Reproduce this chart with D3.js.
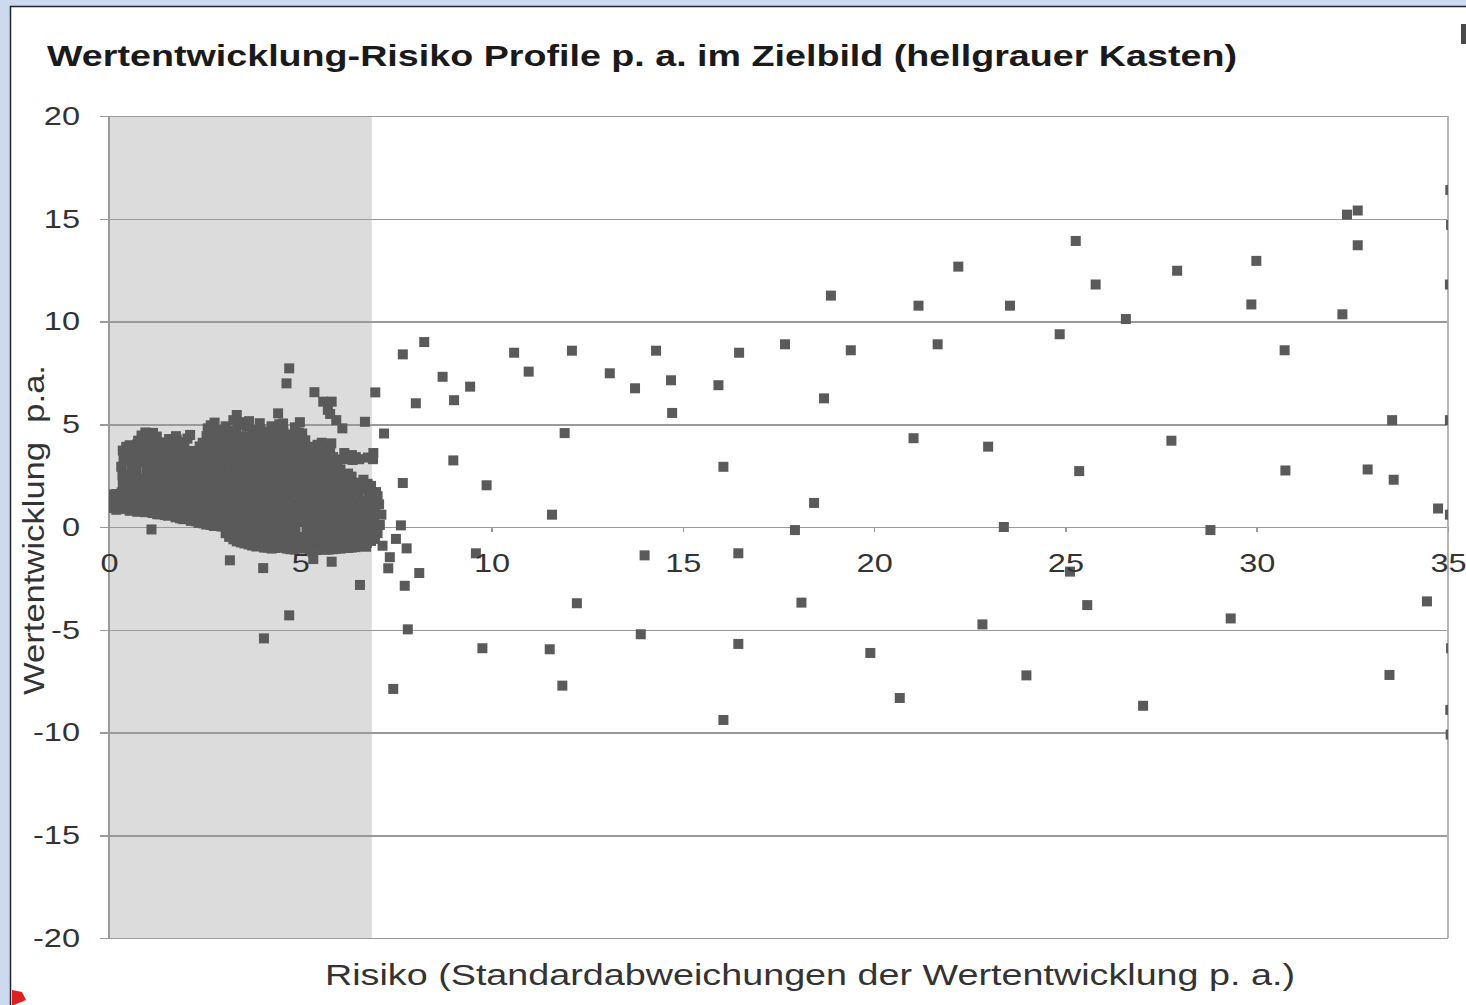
<!DOCTYPE html>
<meta charset="utf-8">
<style>
body { margin: 0; background: #ccd9ee; }
svg { display: block; font-family: "Liberation Sans", Arial, sans-serif; }
.grid line { stroke: #9a9a9a; stroke-width: 1.5; shape-rendering: crispEdges; }
.axis path { display: none; }
.axis text { fill: #333; font-size: 26px; }
.frame { stroke: #9a9a9a; stroke-width: 1.5; fill: none; shape-rendering: crispEdges; }
.pt { fill: #5a5a5a; }
</style>
<body>
<script src="https://cdn.jsdelivr.net/npm/d3@7"></script>
<script>

var xTicks = [0, 5, 10, 15, 20, 25, 30, 35],
    yTicks = [-20, -15, -10, -5, 0, 5, 10, 15, 20],
    targetBox = [0, 6.87];

// dense cloud of funds inside the target box (risk, return)
var clusterPoints = [
  [0.04,0.92],[0.07,1.31],[0.05,1.58],[0.19,0.84],[0.22,1.22],[0.18,1.6],
  [0.34,0.88],[0.37,1.27],[0.33,1.68],[0.36,2.1],[0.35,2.52],[0.32,2.93],[0.38,3.34],[0.36,3.72],
  [0.54,0.79],[0.57,1.18],[0.53,1.6],[0.56,2.02],[0.55,2.41],[0.58,2.83],[0.52,3.25],[0.56,3.63],[0.54,3.98],
  [0.74,0.74],[0.77,1.12],[0.73,1.55],[0.76,1.96],[0.78,2.37],[0.72,2.8],[0.75,3.2],[0.77,3.6],[0.74,4.02],[0.76,4.2],
  [0.94,0.72],[0.97,1.1],[0.93,1.52],[0.96,1.93],[0.95,2.33],[0.98,2.76],[0.92,3.16],[0.96,3.57],[0.94,3.97],[0.97,4.35],[0.95,4.6],
  [1.11,-0.12],[1.14,0.68],[1.17,1.08],[1.13,1.49],[1.16,1.9],[1.15,2.3],[1.18,2.72],[1.12,3.13],[1.16,3.54],[1.14,3.94],[1.17,4.32],[1.15,4.58],
  [1.34,0.62],[1.37,1.04],[1.33,1.45],[1.36,1.87],[1.35,2.27],[1.38,2.69],[1.32,3.1],[1.36,3.5],[1.34,3.9],[1.37,4.12],
  [1.54,0.55],[1.57,0.98],[1.53,1.4],[1.56,1.82],[1.55,2.22],[1.58,2.64],[1.52,3.05],[1.56,3.46],[1.54,3.86],[1.57,4.28],
  [1.64,0.7],[1.74,0.47],[1.77,0.9],[1.73,1.33],[1.76,1.76],[1.75,2.18],[1.78,2.6],[1.72,3.0],[1.76,3.42],[1.74,3.83],[1.77,4.25],[1.75,4.42],
  [1.94,0.38],[1.97,0.82],[1.93,1.24],[1.96,1.67],[1.95,2.1],[1.98,2.52],[1.92,2.94],[1.96,3.36],[1.94,3.78],[1.97,4.12],
  [2.14,0.3],[2.17,0.74],[2.13,1.17],[2.16,1.6],[2.15,2.02],[2.18,2.45],[2.12,2.88],[2.16,3.3],[2.14,3.7],[2.12,4.48],
  [2.34,0.2],[2.37,0.62],[2.33,1.06],[2.36,1.5],[2.35,1.93],[2.38,2.36],[2.32,2.8],[2.36,3.22],[2.34,3.62],[2.37,3.92],
  [2.54,0.12],[2.57,0.55],[2.53,0.98],[2.56,1.42],[2.55,1.86],[2.58,2.3],[2.52,2.72],[2.56,3.15],[2.54,3.58],[2.57,4.0],[2.55,4.42],[2.58,4.8],
  [2.74,0.05],[2.77,0.48],[2.73,0.92],[2.76,1.36],[2.75,1.8],[2.78,2.24],[2.72,2.66],[2.76,3.1],[2.74,3.52],[2.77,3.95],[2.75,4.38],[2.73,4.8],[2.76,5.08],
  [2.94,0.02],[2.97,0.44],[2.93,0.88],[2.96,1.32],[2.95,1.76],[2.98,2.2],[2.92,2.62],[2.96,3.05],[2.94,3.48],[2.97,3.9],[2.95,4.32],[2.98,4.72],
  [3.16,-1.62],[3.14,-0.48],[3.17,-0.05],[3.13,0.38],[3.16,0.82],[3.15,1.26],[3.18,1.7],[3.12,2.14],[3.16,2.56],[3.14,3.0],[3.17,3.42],[3.15,3.86],[3.18,4.28],[3.14,4.68],
  [3.34,-0.7],[3.37,-0.26],[3.33,0.18],[3.36,0.62],[3.35,1.06],[3.38,1.5],[3.32,1.94],[3.36,2.38],[3.34,2.8],[3.37,3.24],[3.35,3.66],[3.38,4.1],[3.32,4.52],[3.36,4.95],[3.34,5.45],
  [3.54,-0.8],[3.57,-0.36],[3.53,0.08],[3.56,0.52],[3.55,0.96],[3.58,1.4],[3.52,1.84],[3.56,2.28],[3.54,2.7],[3.57,3.14],[3.55,3.56],[3.58,4.0],[3.52,4.42],[3.6,4.9],
  [3.74,-0.9],[3.77,-0.46],[3.73,-0.02],[3.76,0.42],[3.75,0.86],[3.78,1.3],[3.72,1.74],[3.76,2.18],[3.74,2.6],[3.77,3.04],[3.75,3.46],[3.78,3.9],[3.72,4.32],[3.76,4.72],
  [4.03,-2.0],[3.94,-0.88],[3.97,-0.44],[3.93,0.0],[3.96,0.44],[3.95,0.88],[3.98,1.32],[3.92,1.76],[3.96,2.2],[3.94,2.62],[3.97,3.06],[3.95,3.48],[3.98,3.92],[3.92,4.34],[3.96,4.76],[3.94,5.05],
  [4.14,-1.0],[4.17,-0.56],[4.13,-0.12],[4.16,0.32],[4.15,0.76],[4.18,1.2],[4.12,1.64],[4.16,2.08],[4.14,2.5],[4.17,2.94],[4.15,3.36],[4.18,3.8],[4.12,4.22],[4.16,4.64],
  [4.34,-1.02],[4.37,-0.58],[4.33,-0.14],[4.36,0.3],[4.35,0.74],[4.38,1.18],[4.32,1.62],[4.36,2.06],[4.34,2.48],[4.37,2.92],[4.35,3.34],[4.38,3.78],[4.32,4.2],[4.36,4.62],[4.42,5.53],
  [4.54,-1.0],[4.57,-0.56],[4.53,-0.12],[4.56,0.32],[4.55,0.76],[4.58,1.2],[4.52,1.64],[4.56,2.08],[4.54,2.5],[4.57,2.94],[4.55,3.36],[4.58,3.8],[4.52,4.22],[4.56,4.62],[4.55,5.04],
  [4.74,-1.08],[4.77,-0.64],[4.73,-0.2],[4.76,0.24],[4.75,0.68],[4.78,1.12],[4.72,1.56],[4.76,2.0],[4.74,2.42],[4.77,2.86],[4.75,3.28],[4.78,3.7],[4.72,4.12],[4.76,4.5],[4.64,6.99],[4.71,7.72],
  [4.94,-1.0],[4.97,-0.56],[4.93,-0.12],[4.96,0.32],[4.95,0.76],[4.98,1.2],[4.92,1.64],[4.96,2.08],[4.94,2.5],[4.97,2.94],[4.95,3.36],[4.98,3.78],[4.92,4.2],[4.96,4.6],[4.99,5.1],
  [5.14,-0.98],[5.17,-0.54],[5.13,-0.1],[5.16,0.34],[5.15,0.78],[5.18,1.22],[5.12,1.66],[5.16,2.1],[5.14,2.52],[5.17,2.96],[5.15,3.38],[5.18,3.8],[5.13,4.22],
  [5.32,-1.22],[5.34,-1.56],[5.35,-0.98],[5.37,-0.6],[5.33,-0.16],[5.36,0.28],[5.35,0.72],[5.38,1.16],[5.32,1.6],[5.36,2.04],[5.34,2.46],[5.37,2.9],[5.35,3.32],[5.38,3.72],[5.37,6.56],
  [5.54,-1.08],[5.57,-0.64],[5.53,-0.2],[5.56,0.24],[5.55,0.68],[5.58,1.12],[5.52,1.56],[5.56,2.0],[5.54,2.42],[5.57,2.86],[5.55,3.28],[5.58,3.66],[5.56,4.1],[5.6,6.1],
  [5.72,5.7],[5.82,6.1],[5.78,5.5],[5.81,4.07],[5.94,5.2],[6.1,4.8],
  [5.74,-1.1],[5.82,-1.69],[5.77,-0.66],[5.73,-0.22],[5.76,0.22],[5.75,0.66],[5.78,1.1],[5.72,1.54],[5.76,1.98],[5.74,2.4],[5.77,2.84],[5.75,3.26],[5.78,3.66],
  [5.94,-1.06],[5.97,-0.62],[5.93,-0.18],[5.96,0.26],[5.95,0.7],[5.98,1.14],[5.92,1.58],[5.96,2.02],[5.94,2.44],[5.97,2.86],[5.95,3.28],
  [6.14,-1.02],[6.17,-0.58],[6.13,-0.14],[6.16,0.3],[6.15,0.74],[6.18,1.18],[6.12,1.62],[6.16,2.06],[6.14,2.46],[6.17,3.3],[6.15,3.6],
  [6.34,-1.0],[6.37,-0.56],[6.33,-0.12],[6.36,0.32],[6.35,0.76],[6.38,1.2],[6.32,1.64],[6.36,2.08],[6.34,2.45],[6.37,3.26],[6.35,3.5],
  [6.56,-2.82],[6.54,-0.92],[6.57,-0.48],[6.53,-0.04],[6.56,0.4],[6.55,0.84],[6.58,1.28],[6.52,1.72],[6.56,2.16],[6.54,3.3],[6.69,5.12],
  [6.74,-0.78],[6.77,-0.34],[6.73,0.1],[6.76,0.54],[6.75,0.98],[6.78,1.42],[6.72,1.86],[6.76,2.1],[6.77,3.38],[6.9,3.3],[6.91,3.6],
  [6.94,-0.5],[6.97,-0.06],[6.93,0.38],[6.96,0.82],[6.95,1.26],[6.98,1.7],[6.96,6.55],
  [7.08,0.1],[7.12,0.6],[7.06,1.1],[7.19,4.55],
  // ragged rims of the cloud
  [0.45,3.9],[0.85,4.45],[1.25,4.4],[1.46,0.58],[2.05,4.3],[2.45,4.1],[2.66,4.95],[3.05,4.9],[3.25,5.2],
  [3.45,5.1],[3.66,5.15],[4.25,4.9],[4.45,5.0],[4.86,4.85],[5.05,4.55],[5.25,3.9],[5.45,4.0],[5.66,3.9],
  [5.86,3.4],[6.05,2.8],[6.25,2.6],[6.45,3.4],[6.65,2.3],[6.85,2.0],[7.02,1.5],[2.85,0.1],[3.05,-0.3],
  [3.25,-0.6],[3.45,-0.75],[3.65,-0.85],[3.85,-0.95],[4.05,-1.0],[4.25,-1.05],[4.45,-1.0],[4.65,-1.05],
  [4.85,-1.1],[5.05,-1.05],[5.25,-1.1],[5.45,-1.12],[5.65,-1.1],[5.85,-1.08],[6.05,-1.05],[6.25,-1.02],
  [6.45,-0.98],[6.65,-0.88],[6.85,-0.68],[7.02,-0.3],[1.26,0.62],[1.86,0.42],[2.26,0.28],[2.46,0.18],[2.66,0.1]
];

// funds outside the target box
var scatterPoints = [
  [7.68,8.4],[8.24,9.0],[10.59,8.48],[12.1,8.58],[14.3,8.58],[16.47,8.48],[10.97,7.56],[8.72,7.31],
  [13.09,7.48],[14.69,7.14],[13.75,6.75],[15.93,6.9],[9.44,6.83],[8.02,6.02],[9.02,6.17],[14.72,5.55],
  [11.91,4.57],[9.0,3.24],[16.06,2.93],[7.68,2.14],[9.87,2.03],[11.58,0.6],[7.63,0.08],
  [6.95,-0.58],[7.5,-0.58],[6.72,-0.96],[7.15,-0.91],[7.78,-1.04],[7.34,-1.47],[7.3,-2.01],[8.11,-2.24],
  [9.59,-1.28],[14.0,-1.38],[16.45,-1.28],[7.73,-2.86],[12.23,-3.71],[7.81,-4.98],[13.9,-5.22],
  [16.45,-5.69],[9.76,-5.9],[11.52,-5.95],[7.43,-7.88],[11.85,-7.72],[16.06,-9.39],[4.05,-5.42],[4.71,-4.3],
  [25.27,13.92],[22.2,12.67],[18.87,11.26],[21.16,10.77],[23.55,10.77],[24.85,9.38],[17.67,8.89],
  [19.39,8.6],[21.66,8.89],[18.69,6.26],[21.03,4.32],[22.98,3.91],[25.36,2.72],[18.43,1.17],
  [17.93,-0.15],[23.39,0.0],[25.12,-2.17],[18.1,-3.68],[22.83,-4.74],[19.9,-6.13],[23.98,-7.22],[20.67,-8.32],
  [32.36,15.2],[32.64,15.4],[32.64,13.71],[29.99,12.95],[27.92,12.47],[25.79,11.8],[29.86,10.83],
  [32.24,10.35],[26.58,10.12],[30.73,8.6],[33.54,5.2],[27.77,4.2],[30.75,2.75],[32.9,2.8],[33.58,2.3],
  [34.74,0.9],[28.79,-0.15],[25.57,-3.8],[29.32,-4.45],[34.45,-3.62],[33.47,-7.2],[27.03,-8.7]
];

// funds just beyond the right edge, only a sliver shows
var edgePoints = [[35.06,16.4],[35.08,14.7],[35.05,11.8],[35.05,5.2],[35.05,0.6],[35.08,-5.9],[35.06,-8.9],[35.07,-10.1]];

var W = 1466, H = 1005,
    plotL = 109, plotR = 1448, plotT = 116, plotB = 938,
    stretch = 1.25; // the original is squeezed wider than the font

var x = d3.scaleLinear().domain([0, 35]).range([plotL, plotR]);
var y = d3.scaleLinear().domain([-20, 20]).range([plotB, plotT]);

var svg = d3.select("body").append("svg")
    .attr("width", W)
    .attr("height", H);

// outer frame of the slide
svg.append("rect").attr("width", W).attr("height", H).attr("fill", "#ccd9ee");
svg.append("rect")
    .attr("x", 10.5).attr("y", 6.5)
    .attr("width", W).attr("height", H)
    .attr("fill", "#fff")
    .attr("stroke", "#1d2530")
    .attr("stroke-width", 1.5);

svg.append("text")
    .attr("x", 47)
    .attr("y", 66)
    .attr("fill", "#1a1a1a")
    .attr("textLength", 1190)
    .attr("lengthAdjust", "spacingAndGlyphs")
    .style("font-size", "30px")
    .style("font-weight", "bold")
    .text("Wertentwicklung-Risiko Profile p. a. im Zielbild (hellgrauer Kasten)");

// light grey target area
svg.append("rect")
    .attr("x", x(targetBox[0]))
    .attr("y", y(20))
    .attr("width", x(targetBox[1]) - x(targetBox[0]))
    .attr("height", y(-20) - y(20))
    .attr("fill", "#dcdcdc");

var yAxis = d3.axisLeft(y)
    .tickValues(yTicks)
    .tickSize(-(plotR - plotL))
    .tickPadding(29)
    .tickFormat(function(d) { return String(d); });

var gy = svg.append("g")
    .attr("class", "axis grid")
    .attr("transform", "translate(" + plotL + ",0)")
    .call(yAxis);
gy.selectAll("line").attr("x1", -9);

svg.append("line").attr("class", "frame")
    .attr("x1", plotL).attr("x2", plotL).attr("y1", plotT).attr("y2", plotB);
svg.append("line").attr("class", "frame")
    .attr("x1", plotR).attr("x2", plotR).attr("y1", plotT).attr("y2", plotB)
    .style("stroke", "#b5b5b5");

// points, clipped to the plot area
svg.append("clipPath").attr("id", "plot")
  .append("rect")
    .attr("x", plotL).attr("y", plotT - 6)
    .attr("width", plotR - plotL).attr("height", plotB - plotT + 12);

var size = 10;
svg.append("g")
    .attr("clip-path", "url(#plot)")
  .selectAll("rect")
    .data(clusterPoints.concat(scatterPoints, edgePoints))
  .enter().append("rect")
    .attr("class", "pt")
    .attr("x", function(d) { return x(d[0]) - size / 2; })
    .attr("y", function(d) { return y(d[1]) - size / 2; })
    .attr("width", size)
    .attr("height", size);

var xAxis = d3.axisBottom(x)
    .tickValues(xTicks)
    .tickSize(5)
    .tickPadding(22)
    .tickFormat(function(d) { return String(d); });

var gx = svg.append("g")
    .attr("class", "axis grid")
    .attr("transform", "translate(0," + y(0) + ")")
    .call(xAxis);

// widen the tick labels like the original
svg.selectAll(".axis text").each(function() {
  d3.select(this)
      .attr("textLength", this.getComputedTextLength() * stretch)
      .attr("lengthAdjust", "spacingAndGlyphs");
});

// axis titles
svg.append("text")
    .attr("transform", "translate(44,530) rotate(-90)")
    .attr("text-anchor", "middle")
    .attr("fill", "#333")
    .attr("textLength", 330)
    .attr("lengthAdjust", "spacingAndGlyphs")
    .style("font-size", "29px")
    .text("Wertentwicklung\u00a0\u00a0p.a.");

svg.append("text")
    .attr("x", 810)
    .attr("y", 985)
    .attr("text-anchor", "middle")
    .attr("fill", "#333")
    .attr("textLength", 970)
    .attr("lengthAdjust", "spacingAndGlyphs")
    .style("font-size", "30px")
    .text("Risiko (Standardabweichungen der Wertentwicklung p. a.)");

// small leftovers at the slide edges
svg.append("rect").attr("x", 1461).attr("y", 24).attr("width", 5).attr("height", 20).attr("fill", "#4a4a4a");
svg.append("path").attr("d", "M12,990 L22,992 L26,1000 L14,1005 L12,1005 Z").attr("fill", "#e02020");

</script>
